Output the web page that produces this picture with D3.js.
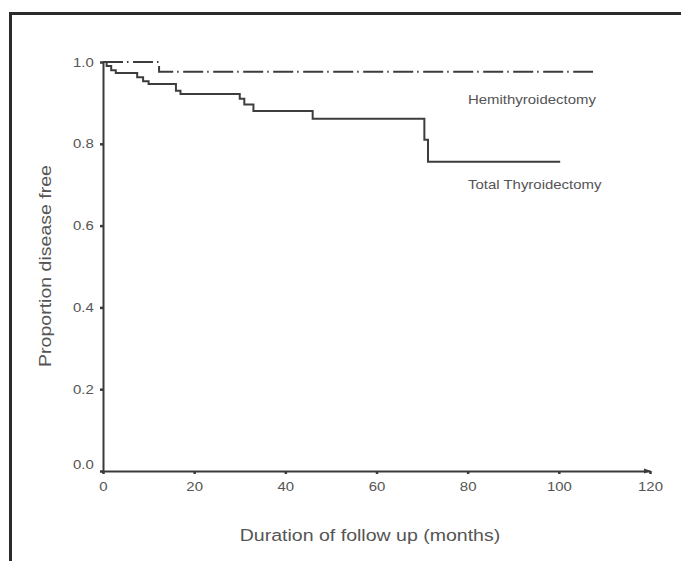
<!DOCTYPE html>
<html>
<head>
<meta charset="utf-8">
<script src="https://cdn.jsdelivr.net/npm/d3@7"></script>
<style>
  html, body { margin: 0; padding: 0; background: #fff; }
  svg { display: block; }
  text { font-family: "Liberation Sans", Arial, sans-serif; fill: #555; }
</style>
</head>
<body>
<div id="chart"></div>
<script>
// Kaplan-Meier style survival curves
const hemiMonths  = [0, 12.3, 107.5];
const hemiFree    = [1.0, 0.976, 0.976];

const totalMonths = [0, 0.8, 1.8, 2.8, 7.5, 8.8, 10, 16, 17, 30, 31, 33, 46, 70.5, 71.3, 100.3];
const totalFree   = [1.0, 0.99, 0.98, 0.973, 0.963, 0.953, 0.946, 0.93, 0.922, 0.91, 0.896, 0.88, 0.861, 0.81, 0.756, 0.756];

const xTicks = [0, 20, 40, 60, 80, 100, 120];
const yTicks = [0, 0.2, 0.4, 0.6, 0.8, 1.0];

const seriesLabels = ["Hemithyroidectomy", "Total Thyroidectomy"];

const width = 681, height = 561;
const stretch = 1.15;   // the scanned type is wider than Arial

const svg = d3.select("#chart").append("svg")
    .attr("width", width).attr("height", height);

// frame (top and left edges only, as in the scan)
svg.append("path")
    .attr("d", "M10.5,561 V13.5 H681")
    .attr("fill", "none").attr("stroke", "#2b2b2b").attr("stroke-width", 3);

const x = d3.scaleLinear().domain([0, 120]).range([103, 650]);
const y = d3.scaleLinear().domain([0, 1]).range([471, 62]);

// axes
const xAxis = svg.append("g").attr("transform", `translate(0,${y(0)})`)
    .call(d3.axisBottom(x).tickValues(xTicks).tickSize(3).tickSizeOuter(0).tickPadding(8)
        .tickFormat(d3.format("d")));
const yAxis = svg.append("g").attr("transform", `translate(${x(0)},0)`)
    .call(d3.axisLeft(y).tickValues(yTicks).tickSize(3).tickSizeOuter(0).tickPadding(5)
        .tickFormat(d3.format(".1f")));

[xAxis, yAxis].forEach(a => {
    a.select(".domain").attr("stroke", "#3a3a3a").attr("stroke-width", 2);
    a.selectAll(".tick line").attr("stroke", "#3a3a3a").attr("stroke-width", 2.5);
    a.selectAll(".tick text").style("font-size", "13px").style("fill", "#555")
        .attr("transform", `scale(${stretch},1)`);
});
yAxis.selectAll(".tick").filter(d => d === 0).select("text").attr("dy", "-0.2em");

// small arrow head at the end of the x axis
svg.append("path")
    .attr("d", `M${x(120) - 6},${y(0) - 2.5} L${x(120) + 1},${y(0)} L${x(120) - 6},${y(0) + 2.5} Z`)
    .attr("fill", "#3a3a3a");

// curves
const line = d3.line().curve(d3.curveStepAfter).x(d => x(d[0])).y(d => y(d[1]));

svg.append("path")
    .datum(d3.zip(totalMonths, totalFree))
    .attr("d", line)
    .attr("fill", "none").attr("stroke", "#3d3d3d").attr("stroke-width", 2);

svg.append("path")
    .datum(d3.zip(hemiMonths, hemiFree))
    .attr("d", line)
    .attr("fill", "none").attr("stroke", "#3d3d3d").attr("stroke-width", 2)
    .attr("stroke-dasharray", "20,4,1.5,4.5");

// series labels
const labelPos = [[468, 104], [468, 189]];
seriesLabels.forEach((t, i) => {
    svg.append("g").attr("transform", `translate(${labelPos[i][0]},${labelPos[i][1]}) scale(${stretch},1)`)
        .append("text").style("font-size", "13px").text(t);
});

// axis titles
svg.append("g").attr("transform", `translate(370,541) scale(${stretch},1)`)
    .append("text").attr("text-anchor", "middle").style("font-size", "17px")
    .text("Duration of follow up (months)");

svg.append("g").attr("transform", `translate(51,266) rotate(-90) scale(${stretch},1)`)
    .append("text").attr("text-anchor", "middle").style("font-size", "17px")
    .text("Proportion disease free");
</script>
</body>
</html>
